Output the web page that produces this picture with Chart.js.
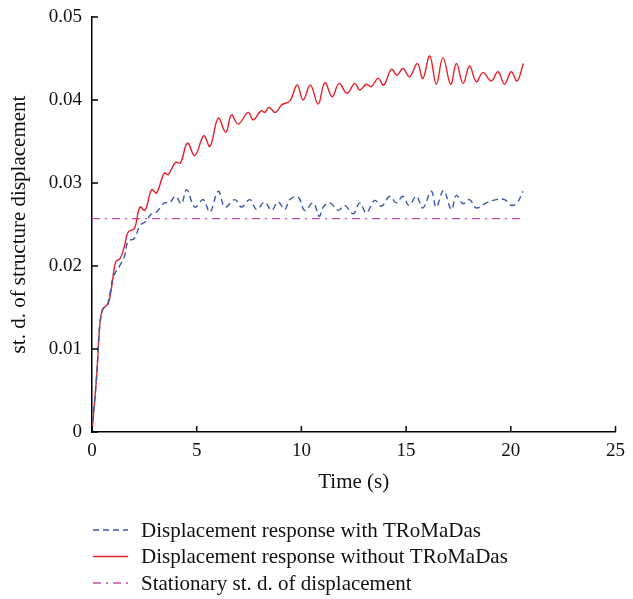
<!DOCTYPE html>
<html>
<head>
<meta charset="utf-8">
<script src="https://cdn.jsdelivr.net/npm/chart.js@4.4.1/dist/chart.umd.min.js"></script>
<style>
  html, body { margin: 0; padding: 0; background: #fff; }
  #wrap { width: 633px; height: 599px; position: relative; }
</style>
</head>
<body>
<div id="wrap"><canvas id="c"></canvas></div>
<script>
// time (s) and st. d. values
var timeWith = [0, 0.22, 0.38, 0.54, 0.7, 0.86, 1.02, 1.34, 1.54, 1.73, 2.02, 2.29, 2.53, 2.85, 3.08, 3.45, 3.7, 3.99, 4.27, 4.52, 4.91, 5.31, 5.63, 6.03, 6.35, 6.82, 7.14, 7.54, 7.86, 8.25, 8.57, 8.89, 9.2, 9.45, 9.84, 10.16, 10.56, 10.85, 11.04, 11.36, 11.76, 12.07, 12.47, 12.79, 13.1, 13.5, 13.82, 14.22, 14.54, 14.85, 15.14, 15.49, 15.8, 16.2, 16.44, 16.79, 17.16, 17.4, 17.72, 18.03, 18.35, 18.83, 19.31, 19.7, 20.02, 20.3, 20.58];
var valWith = [0, 0.0067, 0.0131, 0.0149, 0.0151, 0.0167, 0.0187, 0.0201, 0.0211, 0.023, 0.0233, 0.0249, 0.0253, 0.0263, 0.0265, 0.0276, 0.0276, 0.0284, 0.0275, 0.0292, 0.0271, 0.028, 0.0265, 0.029, 0.0271, 0.028, 0.0271, 0.028, 0.0268, 0.0277, 0.0267, 0.0277, 0.0268, 0.028, 0.0283, 0.0267, 0.0276, 0.026, 0.0271, 0.0276, 0.0267, 0.0273, 0.0263, 0.0276, 0.0264, 0.0279, 0.0272, 0.0284, 0.0276, 0.0284, 0.0273, 0.0284, 0.027, 0.029, 0.0271, 0.0291, 0.0268, 0.0285, 0.0275, 0.028, 0.027, 0.0276, 0.028, 0.028, 0.0273, 0.0276, 0.029];

var timeWithout = [0, 0.22, 0.38, 0.49, 0.62, 0.78, 0.94, 1.13, 1.34, 1.54, 1.73, 2.02, 2.29, 2.53, 2.85, 3.08, 3.45, 3.64, 3.99, 4.22, 4.56, 4.91, 5.34, 5.63, 6.03, 6.39, 6.66, 6.98, 7.46, 7.7, 8.07, 8.25, 8.45, 8.76, 9.05, 9.45, 9.8, 10.08, 10.43, 10.8, 11.12, 11.47, 11.8, 12.18, 12.55, 12.79, 13.1, 13.34, 13.66, 13.93, 14.3, 14.57, 14.85, 15.17, 15.54, 15.8, 16.13, 16.44, 16.76, 17.13, 17.4, 17.72, 18.03, 18.35, 18.67, 19.07, 19.39, 19.7, 20.02, 20.3, 20.6];
var valWithout = [0, 0.0067, 0.0131, 0.0147, 0.0151, 0.0155, 0.0175, 0.0205, 0.0209, 0.0223, 0.0241, 0.0245, 0.0271, 0.0267, 0.0292, 0.0288, 0.0312, 0.031, 0.0325, 0.0324, 0.0348, 0.0333, 0.0357, 0.0344, 0.0378, 0.0361, 0.0382, 0.0371, 0.0385, 0.0376, 0.0387, 0.0385, 0.0391, 0.0385, 0.0394, 0.0399, 0.0418, 0.04, 0.0418, 0.0395, 0.0421, 0.0404, 0.042, 0.0408, 0.042, 0.0412, 0.0419, 0.0416, 0.0426, 0.0418, 0.0437, 0.043, 0.0438, 0.0428, 0.0444, 0.0426, 0.0453, 0.0419, 0.0451, 0.0419, 0.0444, 0.042, 0.0441, 0.0422, 0.0433, 0.0423, 0.0434, 0.0419, 0.0434, 0.0423, 0.0444];

var timeStationary = [0, 20.6];
var valStationary = [0.0257, 0.0257];

var seriesLabels = [
  'Displacement response with TRoMaDas',
  'Displacement response without TRoMaDas',
  'Stationary st. d. of displacement'
];

var xTicks = [0, 5, 10, 15, 20, 25];
var yTicks = [0, 0.01, 0.02, 0.03, 0.04, 0.05];

function pts(t, v) {
  return t.map(function (x, i) { return { x: x, y: v[i] }; });
}

var serif = '"Liberation Serif", "DejaVu Serif", serif';

// inward tick marks like the original figure
var innerTicks = {
  id: 'innerTicks',
  afterDraw: function (chart) {
    var ctx = chart.ctx, a = chart.chartArea;
    var xs = chart.scales.x, ys = chart.scales.y;
    ctx.save();
    ctx.strokeStyle = '#000';
    ctx.lineWidth = 1.5;
    ctx.beginPath();
    xTicks.forEach(function (v) {
      var px = xs.getPixelForValue(v);
      ctx.moveTo(px, a.bottom);
      ctx.lineTo(px, a.bottom - 6);
    });
    yTicks.forEach(function (v) {
      var py = ys.getPixelForValue(v);
      ctx.moveTo(a.left, py);
      ctx.lineTo(a.left + 6, py);
    });
    ctx.stroke();
    ctx.restore();
  }
};

// legend stacked under the axis title
var lineLegend = {
  id: 'lineLegend',
  afterDraw: function (chart) {
    var ctx = chart.ctx;
    ctx.save();
    ctx.font = '21px ' + serif;
    ctx.textBaseline = 'middle';
    chart.data.datasets.forEach(function (ds, i) {
      var y = 530 + i * 26.5;
      ctx.strokeStyle = ds.borderColor;
      ctx.lineWidth = 1.3;
      ctx.setLineDash(ds.borderDash || []);
      ctx.beginPath();
      ctx.moveTo(93, y);
      ctx.lineTo(128, y);
      ctx.stroke();
      ctx.setLineDash([]);
      ctx.fillStyle = '#111';
      ctx.fillText(ds.label, 141, y + 1);
    });
    ctx.restore();
  }
};

new Chart(document.getElementById('c').getContext('2d'), {
  type: 'line',
  data: {
    datasets: [
      {
        label: seriesLabels[0],
        data: pts(timeWith, valWith),
        borderColor: '#3b56aa',
        borderWidth: 1.4,
        borderDash: [6, 4],
        tension: 0.4,
        pointRadius: 0
      },
      {
        label: seriesLabels[1],
        data: pts(timeWithout, valWithout),
        borderColor: '#e8202a',
        borderWidth: 1.4,
        tension: 0.4,
        pointRadius: 0
      },
      {
        label: seriesLabels[2],
        data: pts(timeStationary, valStationary),
        borderColor: '#c24fae',
        borderWidth: 1.3,
        borderDash: [8, 5, 2, 5],
        tension: 0,
        pointRadius: 0
      }
    ]
  },
  options: {
    responsive: true,
    maintainAspectRatio: false,
    animation: false,
    layout: { padding: { left: 0, top: 17, right: 17, bottom: 97 } },
    plugins: { legend: { display: false }, tooltip: { enabled: false } },
    scales: {
      x: {
        type: 'linear',
        min: 0,
        max: 25,
        afterFit: function (s) { s.height = 70; },
        afterBuildTicks: function (s) { s.ticks = xTicks.map(function (v) { return { value: v }; }); },
        grid: { display: false, drawTicks: false },
        border: { display: true, color: '#000', width: 1.5 },
        ticks: { color: '#111', padding: 8, maxRotation: 0, font: { family: serif, size: 19 } },
        title: {
          display: true,
          text: 'Time (s)',
          color: '#111',
          font: { family: serif, size: 21 },
          padding: { top: 0, bottom: 7 }
        }
      },
      y: {
        min: 0,
        max: 0.05,
        afterFit: function (s) { s.width = 92; s.paddingTop = 0; s.paddingBottom = 0; },
        afterBuildTicks: function (s) { s.ticks = yTicks.map(function (v) { return { value: v }; }); },
        grid: { display: false, drawTicks: false },
        border: { display: true, color: '#000', width: 1.5 },
        ticks: {
          color: '#111',
          padding: 10,
          font: { family: serif, size: 19 },
          callback: function (v) { return v === 0 ? '0' : v.toFixed(2); }
        },
        title: {
          display: true,
          text: 'st. d. of structure displacement',
          color: '#111',
          font: { family: serif, size: 21 },
          padding: { top: 7, bottom: 0 }
        }
      }
    }
  },
  plugins: [innerTicks, lineLegend]
});
</script>
</body>
</html>
